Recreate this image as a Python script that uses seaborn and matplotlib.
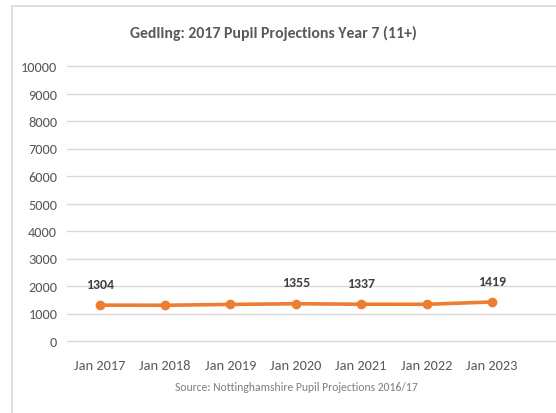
import matplotlib
matplotlib.use("Agg")
import matplotlib.pyplot as plt
from matplotlib.patches import Rectangle
import pandas as pd
import seaborn as sns

years = ["Jan 2017", "Jan 2018", "Jan 2019", "Jan 2020", "Jan 2021", "Jan 2022", "Jan 2023"]
pupils = [1304, 1300, 1330, 1355, 1337, 1335, 1419]
labelled = ["Jan 2017", "Jan 2020", "Jan 2021", "Jan 2023"]
y_ticks = list(range(0, 10001, 1000))

sns.set_theme(style="white")
plt.rcParams["font.family"] = ["Carlito", "Open Sans", "DejaVu Sans"]

df = pd.DataFrame({"year": years, "pupils": pupils})
df["pos"] = range(len(df))

fig = plt.figure(figsize=(5.56, 4.14), dpi=100)
fig.patches.append(Rectangle((12 / 556, -0.1), 1.2, (414 - 7) / 414 + 0.1,
                             transform=fig.transFigure, fill=False,
                             edgecolor="#d9d9d9", linewidth=1.2))
ax = fig.add_axes([67 / 556, (414 - 342) / 414, 1 - 67 / 556, (342 - 67) / 414])

sns.lineplot(data=df, x="pos", y="pupils", ax=ax, color="#ED7D31",
             linewidth=2.6, marker="o", markersize=7, markeredgewidth=0)

for _, row in df.iterrows():
    if row["year"] in labelled:
        ax.annotate(f"{row['pupils']}", (row["pos"], row["pupils"]),
                    xytext=(0, 11), textcoords="offset points", ha="center",
                    va="bottom", fontsize=10, fontweight="bold", color="#404040")

ax.set_ylim(0, 10000)
ax.set_yticks(y_ticks)
ax.set_xlim(-0.5, 6.98)
ax.set_xticks(df["pos"])
ax.set_xticklabels(years)
ax.yaxis.grid(True, color="#d9d9d9", linewidth=1)
for gl in ax.get_ygridlines():
    gl.set_clip_on(False)
ax.set_axisbelow(True)
for s in ax.spines.values():
    s.set_visible(False)
ax.tick_params(axis="both", length=0, labelsize=10.4, labelcolor="#595959")
ax.tick_params(axis="y", pad=7)
ax.tick_params(axis="x", pad=13)
ax.set_ylabel("")
ax.set_xlabel("Source: Nottinghamshire Pupil Projections 2016/17",
              fontsize=8.4, color="#7f7f7f")
ax.xaxis.set_label_coords((296 - 67) / (556 - 67), -(388 - 342) / (342 - 67))
ax.xaxis.label.set_va("center")

fig.text(273 / 556, 1 - 33 / 414, "Gedling: 2017 Pupil Projections Year 7 (11+)",
         ha="center", va="center", fontsize=11.3, fontweight="bold", color="#595959")

fig.savefig("out.png", dpi=100)
